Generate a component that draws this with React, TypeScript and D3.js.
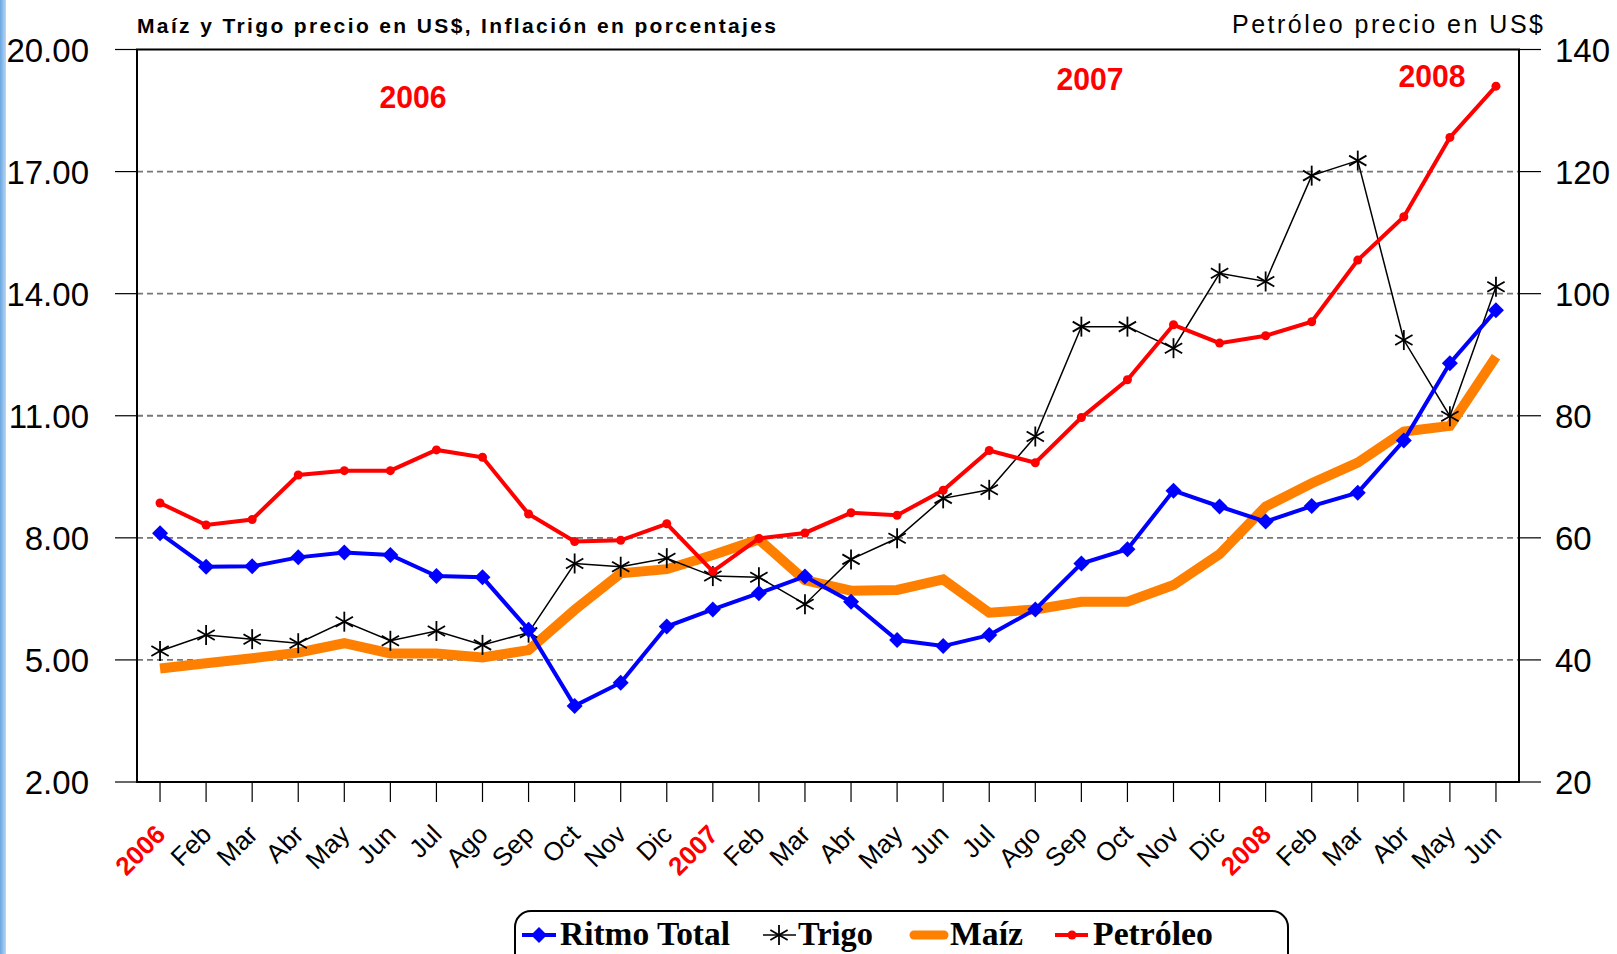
import React from "react";
import * as d3 from "d3";

const months = ["2006","Feb","Mar","Abr","May","Jun","Jul","Ago","Sep","Oct","Nov","Dic","2007","Feb","Mar","Abr","May","Jun","Jul","Ago","Sep","Oct","Nov","Dic","2008","Feb","Mar","Abr","May","Jun"];
const yearLabels = ["2006","2007","2008"];

const ritmoTotal = [8.11,7.29,7.30,7.52,7.64,7.58,7.06,7.03,5.74,3.87,4.44,5.82,6.24,6.64,7.05,6.43,5.49,5.34,5.61,6.24,7.37,7.72,9.16,8.77,8.40,8.78,9.11,10.39,12.29,13.59];
const trigo = [5.22,5.61,5.51,5.41,5.94,5.47,5.71,5.37,5.67,7.37,7.29,7.50,7.06,7.03,6.37,7.47,7.99,8.97,9.18,10.49,13.19,13.19,12.66,14.50,14.30,16.90,17.27,12.86,10.99,14.17];
const maiz = [4.79,4.92,5.04,5.18,5.41,5.16,5.16,5.06,5.24,6.23,7.13,7.23,7.58,7.96,6.96,6.70,6.72,6.98,6.16,6.24,6.43,6.43,6.84,7.60,8.77,9.34,9.85,10.61,10.75,12.45];
const petroleo = [65.7,62.1,63.0,70.3,71.0,71.0,74.4,73.2,63.9,59.4,59.6,62.3,54.5,59.9,60.8,64.1,63.7,67.8,74.3,72.3,79.7,85.9,94.9,91.9,93.1,95.4,105.5,112.6,125.6,134.0];

const leftTicks = [2,5,8,11,14,17,20];
const rightTicks = [20,40,60,80,100,120,140];

const legendNames = ["Ritmo Total","Trigo","Maíz","Petróleo"];

const W = 1617, H = 954;
const L = 137, R = 1519, T = 49.5, B = 782;

const SANS = "'Liberation Sans', Arial, sans-serif";
const SERIF = "'Liberation Serif', 'Times New Roman', serif";

function Diamond({ x, y, s = 8 }: { x: number; y: number; s?: number }) {
  return <path d={`M${x},${y - s}L${x + s},${y}L${x},${y + s}L${x - s},${y}Z`} fill="#0000FF" />;
}

function Star({ x, y, r = 10 }: { x: number; y: number; r?: number }) {
  const a = r * 0.866, b = r * 0.5;
  return (
    <g stroke="#000" strokeWidth={1.8} fill="none">
      <line x1={x} y1={y - r} x2={x} y2={y + r} />
      <line x1={x - a} y1={y - b} x2={x + a} y2={y + b} />
      <line x1={x - a} y1={y + b} x2={x + a} y2={y - b} />
    </g>
  );
}

export default function App() {
  const x = d3.scaleBand<number>().domain(d3.range(months.length)).range([L, R]);
  const cx = (i: number) => (x(i) as number) + x.bandwidth() / 2;
  const yL = d3.scaleLinear().domain([2, 20]).range([B, T]);
  const yR = d3.scaleLinear().domain([20, 140]).range([B, T]);

  const lineL = d3.line<number>().x((_, i) => cx(i)).y((d) => yL(d));
  const lineR = d3.line<number>().x((_, i) => cx(i)).y((d) => yR(d));

  return (
    <svg width={W} height={H} style={{ position: "absolute", left: 0, top: 0, background: "#fff" }}>
      <defs>
        <linearGradient id="strip" x1="0" x2="1" y1="0" y2="0">
          <stop offset="0" stopColor="#6aa6e2" />
          <stop offset="1" stopColor="#bcd8f3" />
        </linearGradient>
      </defs>
      <rect x={0} y={0} width={W} height={H} fill="#fff" />
      <rect x={0} y={0} width={6} height={H} fill="url(#strip)" />

      {/* gridlines */}
      {leftTicks.filter((t) => t !== 2 && t !== 20).map((t) => (
        <line key={t} x1={L} x2={R} y1={yL(t)} y2={yL(t)} stroke="#777" strokeWidth={1.8} strokeDasharray="6,4" />
      ))}

      {/* frame */}
      <rect x={L} y={T} width={R - L} height={B - T} fill="none" stroke="#000" strokeWidth={2} />

      {/* left axis ticks & labels */}
      {leftTicks.map((t) => (
        <g key={t}>
          <line x1={L - 22} x2={L} y1={yL(t)} y2={yL(t)} stroke="#000" strokeWidth={1.2} />
          <text x={89} y={yL(t) + 12} textAnchor="end" fontFamily={SANS} fontSize={33} fill="#000">
            {t.toFixed(2)}
          </text>
        </g>
      ))}
      {/* right axis */}
      {rightTicks.map((t) => (
        <g key={t}>
          <line x1={R} x2={R + 22} y1={yR(t)} y2={yR(t)} stroke="#000" strokeWidth={1.2} />
          <text x={1555} y={yR(t) + 12} textAnchor="start" fontFamily={SANS} fontSize={33} fill="#000">
            {t}
          </text>
        </g>
      ))}

      {/* x ticks & labels */}
      {months.map((m, i) => {
        const isYear = yearLabels.includes(m);
        return (
          <g key={i}>
            <line x1={cx(i)} x2={cx(i)} y1={B} y2={B + 20} stroke="#000" strokeWidth={1.2} />
            <text
              transform={`translate(${cx(i) + 7},${836}) rotate(-45)`}
              textAnchor="end"
              fontFamily={SANS}
              fontSize={isYear ? 26 : 26}
              fontWeight={isYear ? "bold" : "normal"}
              fill={isYear ? "#FF0000" : "#000"}
            >
              {m}
            </text>
          </g>
        );
      })}

      {/* titles */}
      <text x={137} y={33} fontFamily={SANS} fontSize={21} fontWeight="bold" textLength={639} lengthAdjust="spacing">
        Maíz y Trigo precio en US$, Inflación en porcentajes
      </text>
      <text x={1232} y={33} fontFamily={SANS} fontSize={25} textLength={311} lengthAdjust="spacing">
        Petróleo precio en US$
      </text>

      {/* year annotations */}
      <text x={413} y={108} textAnchor="middle" fontFamily={SANS} fontSize={31} fontWeight="bold" fill="#FF0000" textLength={67} lengthAdjust="spacingAndGlyphs">2006</text>
      <text x={1090} y={90} textAnchor="middle" fontFamily={SANS} fontSize={31} fontWeight="bold" fill="#FF0000" textLength={67} lengthAdjust="spacingAndGlyphs">2007</text>
      <text x={1432} y={87} textAnchor="middle" fontFamily={SANS} fontSize={31} fontWeight="bold" fill="#FF0000" textLength={67} lengthAdjust="spacingAndGlyphs">2008</text>

      {/* series */}
      <path d={lineL(maiz) || ""} fill="none" stroke="#FF8000" strokeWidth={10} strokeLinejoin="miter" />
      <path d={lineL(trigo) || ""} fill="none" stroke="#000" strokeWidth={1.5} />
      {trigo.map((v, i) => <Star key={i} x={cx(i)} y={yL(v)} />)}
      <path d={lineL(ritmoTotal) || ""} fill="none" stroke="#0000FF" strokeWidth={4} />
      {ritmoTotal.map((v, i) => <Diamond key={i} x={cx(i)} y={yL(v)} />)}
      <path d={lineR(petroleo) || ""} fill="none" stroke="#FF0000" strokeWidth={4} />
      {petroleo.map((v, i) => <circle key={i} cx={cx(i)} cy={yR(v)} r={4.5} fill="#FF0000" />)}

      {/* legend */}
      <rect x={515} y={911} width={773} height={70} rx={16} ry={16} fill="#fff" stroke="#000" strokeWidth={2} />
      <line x1={522} x2={556} y1={935} y2={935} stroke="#0000FF" strokeWidth={4} />
      <Diamond x={539} y={935} s={8} />
      <text x={560} y={945} fontFamily={SERIF} fontWeight="bold" fontSize={33} textLength={170} lengthAdjust="spacingAndGlyphs">{legendNames[0]}</text>
      <line x1={763} x2={796} y1={935} y2={935} stroke="#000" strokeWidth={1.5} />
      <Star x={779} y={935} />
      <text x={798} y={945} fontFamily={SERIF} fontWeight="bold" fontSize={33} textLength={75} lengthAdjust="spacingAndGlyphs">{legendNames[1]}</text>
      <line x1={914} x2={944} y1={935} y2={935} stroke="#FF8000" strokeWidth={9} strokeLinecap="round" />
      <text x={950} y={945} fontFamily={SERIF} fontWeight="bold" fontSize={33} textLength={73} lengthAdjust="spacingAndGlyphs">{legendNames[2]}</text>
      <line x1={1055} x2={1088} y1={935} y2={935} stroke="#FF0000" strokeWidth={4} />
      <circle cx={1072} cy={935} r={4.5} fill="#FF0000" />
      <text x={1093} y={945} fontFamily={SERIF} fontWeight="bold" fontSize={33} textLength={120} lengthAdjust="spacingAndGlyphs">{legendNames[3]}</text>
    </svg>
  );
}
